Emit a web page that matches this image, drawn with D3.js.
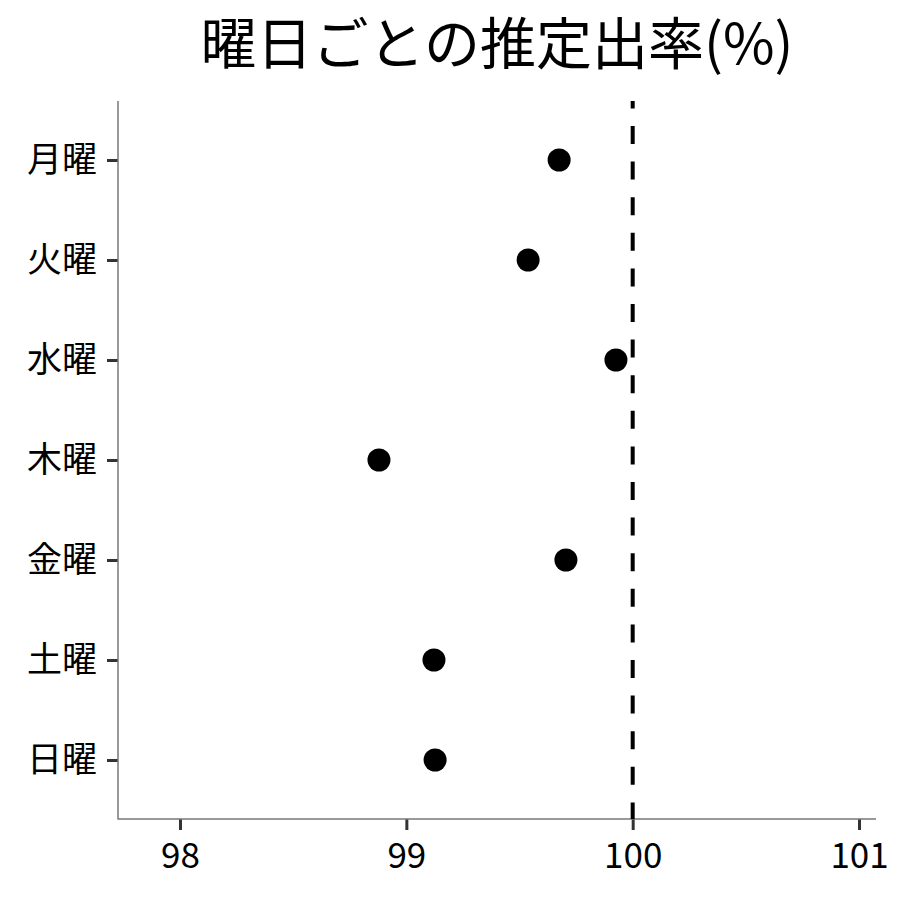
<!DOCTYPE html>
<html><head><meta charset="utf-8">
<script src="https://cdn.jsdelivr.net/npm/d3@7"></script>
<style>body{margin:0;background:#fff}svg{display:block}</style>
</head><body>
<svg id="c" width="900" height="900"></svg>
<script>
const days = ["月曜","火曜","水曜","木曜","金曜","土曜","日曜"];
const rates = [99.675, 99.538, 99.926, 98.879, 99.705, 99.122, 99.127];
const xTicks = [98, 99, 100, 101];
const refValue = 100;
const title = "曜日ごとの推定出率(%)";

const svg = d3.select("#c");
const font = "'Noto Sans CJK JP', 'Noto Sans', sans-serif";
const L = 118, R = 876, T = 101, B = 819;

const x = d3.scaleLinear().domain([97.726, 101.075]).range([L, R]);
const y = d3.scalePoint().domain(days).range([160, 760]);

// axes
const xAxis = svg.append("g").attr("transform", `translate(0,${B})`)
  .call(d3.axisBottom(x).tickValues(xTicks).tickSize(11).tickPadding(13).tickFormat(d3.format("d")));
const yAxis = svg.append("g").attr("transform", `translate(${L},0)`)
  .call(d3.axisLeft(y).tickSize(11).tickPadding(10));
[xAxis, yAxis].forEach(g => {
  g.select(".domain").remove();
  g.selectAll(".tick line").attr("stroke", "#333").attr("stroke-width", 3);
  g.selectAll(".tick text").attr("fill", "#000").style("font-family", font).style("font-size", "35px");
});
svg.append("line").attr("x1", L).attr("x2", L).attr("y1", T).attr("y2", B + 0.5)
  .attr("stroke", "#777").attr("stroke-width", 1.5);
svg.append("line").attr("x1", L).attr("x2", R).attr("y1", B).attr("y2", B)
  .attr("stroke", "#777").attr("stroke-width", 1.5);

// reference line
svg.append("line").attr("x1", x(refValue)).attr("x2", x(refValue)).attr("y1", T).attr("y2", B)
  .attr("stroke", "#000").attr("stroke-width", 4).attr("stroke-dasharray", "18,17.6").attr("stroke-dashoffset", 10.6);

// points
svg.append("g").selectAll("circle").data(days).join("circle")
  .attr("cx", (d, i) => x(rates[i])).attr("cy", d => y(d)).attr("r", 11.5).attr("fill", "#000");

// title
svg.append("text").attr("x", (L + R) / 2).attr("y", 64).attr("text-anchor", "middle")
  .style("font-family", font).style("font-size", "56px").attr("fill", "#000").text(title);
</script>
</body></html>
